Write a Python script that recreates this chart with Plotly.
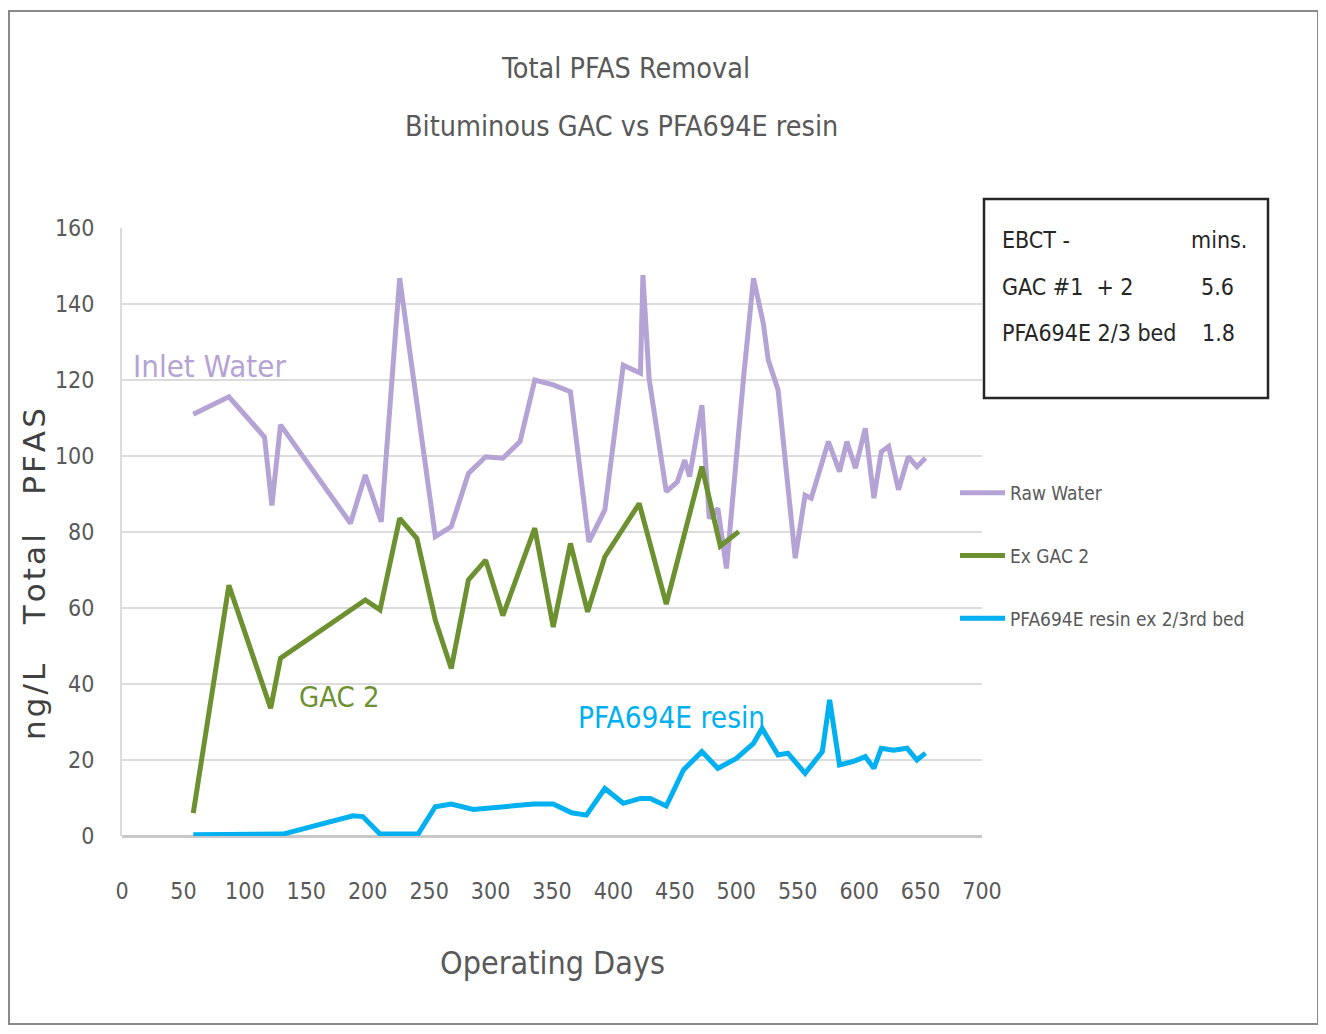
import plotly.graph_objects as go

# ---- data ----
raw_days = [58, 87, 116, 122, 129, 186, 198, 211, 226, 255, 268, 282, 296, 310, 324,
            336, 351, 365, 380, 393, 408, 422, 424, 429, 443, 452, 458, 462, 472, 478,
            485, 492, 506, 514, 522, 526, 534, 548, 556, 561, 575, 584, 590, 597, 605,
            612, 618, 624, 632, 640, 647, 654]
raw_pfas = [111, 115.6, 105, 87, 108.2, 82.3, 95, 82.7, 146.8, 78.8, 81.4, 95.4, 99.8, 99.4, 103.8,
            120, 118.7, 116.9, 77.4, 85.8, 123.9, 121.8, 147.6, 120.4, 90.6, 93.2, 98.9, 94.6, 113.4, 83.6,
            86.2, 70.4, 120.9, 146.8, 134.9, 125.3, 117.4, 73.1, 89.7, 88.9, 103.8, 95.9, 103.8, 96.8, 107.3,
            88.9, 101.1, 102.5, 91.1, 99.8, 97.2, 99.5]

gac_days = [58, 87, 121, 129, 198, 210, 226, 240, 255, 268, 282, 296, 310, 336, 351,
            365, 379, 393, 421, 443, 472, 487, 502]
gac_pfas = [6, 66, 33.6, 46.8, 62.1, 59.5, 83.6, 78.3, 56.8, 44.1, 67.4, 72.6, 58, 81, 55,
            77, 59, 73.5, 87.5, 61, 97.2, 76.3, 80.1]

resin_days = [58, 131, 188, 196, 210, 241, 255, 268, 286, 305, 318, 335, 351, 366, 378,
              393, 408, 422, 430, 443, 457, 472, 485, 500, 514, 521, 534, 542, 556, 570,
              576, 584, 595, 605, 612, 618, 628, 639, 647, 654]
resin_pfas = [0.3, 0.5, 5.3, 5.1, 0.5, 0.5, 7.7, 8.4, 7, 7.5, 7.7, 8.4, 8.4, 6.1, 5.5,
              12.5, 8.6, 9.9, 9.9, 7.9, 17.4, 22.2, 17.8, 20.4, 24.4, 28.3, 21.3, 21.8, 16.5, 22.2,
              35.8, 18.7, 19.6, 20.9, 17.8, 23.1, 22.6, 23.1, 20, 21.8]

series_names = ["Raw Water", "Ex GAC 2", "PFA694E resin ex 2/3rd bed"]
x_ticks = list(range(0, 701, 50))
y_ticks = list(range(0, 161, 20))

PURPLE = "#b4a3d4"
GREEN = "#6d9130"
BLUE = "#00b0f0"
GRAY_TXT = "#595959"
DARK_TXT = "#262626"
FONT = "DejaVu Sans Condensed, Liberation Sans Narrow, Arial Narrow, sans-serif"

# page has an 8px body margin; the figure is sized so the plot area sits
# at page x 122..982 and y 228..836
W, H = 1310, 1018
OFF = 8


def px_x(p):
    return (p - 122) / 860


def px_y(p):
    return (836 - p) / 608


fig = go.Figure()
for name, xs, ys, col, grp in [
    (series_names[0], raw_days, raw_pfas, PURPLE, "g1"),
    (series_names[1], gac_days, gac_pfas, GREEN, "g2"),
    (series_names[2], resin_days, resin_pfas, BLUE, "g3"),
]:
    fig.add_trace(go.Scatter(x=xs, y=ys, mode="lines", name=name, legendgroup=grp,
                             line=dict(color=col, width=5)))

fig.update_layout(
    width=W, height=H,
    margin=dict(l=122 - OFF, r=W - (982 - OFF), t=228 - OFF, b=H - (836 - OFF)),
    paper_bgcolor="white", plot_bgcolor="white",
    font=dict(family=FONT, color=GRAY_TXT),
    title=dict(text="Total PFAS Removal",
               x=(626 - OFF) / W, xanchor="center", xref="container",
               y=1 - (68 - OFF) / H, yanchor="middle", yref="container",
               font=dict(family=FONT, size=28.5, color=GRAY_TXT)),
    showlegend=True,
    legend=dict(x=px_x(955), y=px_y(474), xanchor="left", yanchor="top",
                xref="paper", yref="paper", bgcolor="rgba(0,0,0,0)",
                font=dict(family=FONT, size=19, color=GRAY_TXT),
                itemwidth=45, tracegroupgap=35),
    xaxis=dict(range=[0, 700], tickvals=x_ticks, ticktext=[str(v) for v in x_ticks],
               showgrid=False, zeroline=False, showline=False, ticks="",
               tickfont=dict(family=FONT, size=23, color=GRAY_TXT),
               ticklabelstandoff=39, fixedrange=True),
    yaxis=dict(range=[0, 160], tickvals=y_ticks, ticktext=[str(v) for v in y_ticks],
               showgrid=True, gridcolor="#dcdcdc", gridwidth=2,
               zeroline=True, zerolinecolor="#c8c8c8", zerolinewidth=3,
               showline=True, linecolor="#dcdcdc", linewidth=2, ticks="",
               tickfont=dict(family=FONT, size=23, color=GRAY_TXT),
               ticklabelstandoff=21, fixedrange=True),
)

# subtitle line
fig.add_annotation(text="Bituminous GAC vs PFA694E resin", x=px_x(621), y=px_y(127),
                   xref="paper", yref="paper", xanchor="center", yanchor="middle",
                   showarrow=False, font=dict(family=FONT, size=28.5, color=GRAY_TXT))

# axis titles
hs = "\u200a"
ytitle = (hs.join("ng/L") + "    " + hs.join("Total") + "    " + hs.join("PFAS"))
fig.add_annotation(text=ytitle, x=px_x(34), y=px_y(574),
                   xref="paper", yref="paper", textangle=-90, showarrow=False,
                   xanchor="center", yanchor="middle",
                   font=dict(family="DejaVu Sans, sans-serif", size=31, color="#404040"))
fig.add_annotation(text="Operating Days", x=px_x(552), y=px_y(963),
                   xref="paper", yref="paper", showarrow=False,
                   xanchor="center", yanchor="middle",
                   font=dict(family=FONT, size=32, color=GRAY_TXT))

# in-plot series labels
for txt, xp, yp, col, sz in [("Inlet Water", 131, 366, PURPLE, 31),
                             ("GAC 2", 297, 697, GREEN, 29),
                             ("PFA694E resin", 576, 718, BLUE, 29.5)]:
    fig.add_annotation(text=txt, x=px_x(xp), y=px_y(yp), xref="paper", yref="paper",
                       xanchor="left", yanchor="middle", showarrow=False,
                       font=dict(family=FONT, size=sz, color=col))

# EBCT box
fig.add_shape(type="rect", xref="paper", yref="paper",
              x0=px_x(984), x1=px_x(1268), y0=px_y(398), y1=px_y(199),
              line=dict(color=DARK_TXT, width=2.5), fillcolor="white")
box_left = ["EBCT -", "GAC #1  + 2", "PFA694E 2/3 bed"]
box_right = ["mins.", "5.6", "1.8"]
box_rows_y = [240, 287, 333]
box_right_x = [1249, 1217, 1218]
box_right_anchor = ["right", "center", "center"]
for left, right, yy, rx, ra in zip(box_left, box_right, box_rows_y, box_right_x, box_right_anchor):
    fig.add_annotation(text=left, x=px_x(1000), y=px_y(yy), xref="paper", yref="paper",
                       xanchor="left", yanchor="middle", showarrow=False,
                       font=dict(family=FONT, size=23, color=DARK_TXT))
    fig.add_annotation(text=right, x=px_x(rx), y=px_y(yy), xref="paper", yref="paper",
                       xanchor=ra, yanchor="middle", showarrow=False,
                       font=dict(family=FONT, size=23, color=DARK_TXT))

# outer frame
fig.add_shape(type="rect", xref="paper", yref="paper",
              x0=px_x(9), x1=px_x(1318), y0=px_y(1024), y1=px_y(11),
              line=dict(color="#8a8a8a", width=2), layer="below")

fig.write_html("out.html")
